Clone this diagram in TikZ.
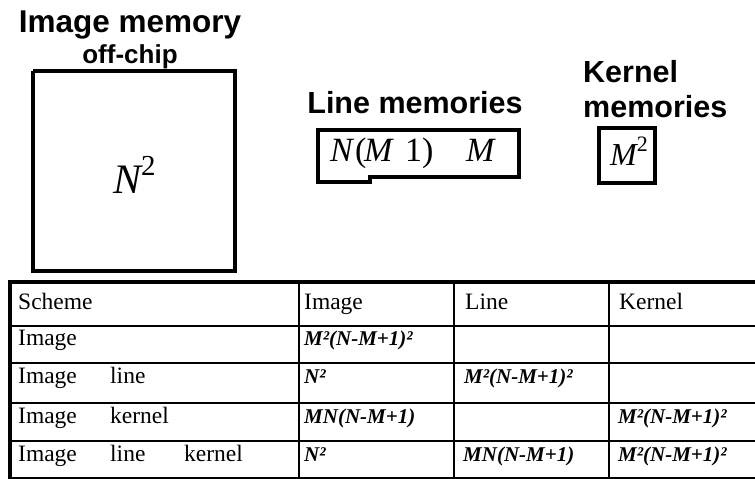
\documentclass[tikz,border=0pt]{standalone}
\usepackage{fontspec}
\setmainfont{Liberation Serif}
\setsansfont{Liberation Sans}
\newcommand{\supnum}[2]{\raisebox{#1}{\fontsize{#2}{#2}\selectfont 2}}
\begin{document}
\begin{tikzpicture}[x=1pt,y=-1pt,
  title/.style={font=\sffamily\bfseries\fontsize{30.5}{34}\selectfont, inner sep=0pt, anchor=base},
  subtitle/.style={font=\sffamily\bfseries\fontsize{26}{30}\selectfont, inner sep=0pt, anchor=base},
  membox/.style={line width=4.2pt, line join=miter},
  mathtext/.style={inner sep=0pt, anchor=base west},
  cell/.style={font=\fontsize{23.5}{27}\selectfont, inner sep=0pt, anchor=base west},
  val/.style={font=\bfseries\itshape\fontsize{21}{25}\selectfont, inner sep=0pt, anchor=base west},
  thinrule/.style={line width=1.8pt},
  thickrule/.style={line width=4pt}]
\useasboundingbox (0,0) rectangle (755,479);

% --- image memory (off-chip)
\node[title, font=\sffamily\bfseries\fontsize{31.5}{35}\selectfont] (imgmem) at (130,32) {Image memory};
\node[subtitle] (offchip) at (130,63) {off-chip};
\draw[membox] (33,71) -- (237,71);
\draw[membox] (33,71) -- (33,271) -- (235,271) -- (235,71);
\node[mathtext, font=\fontsize{42}{46}\selectfont] (nsq) at (113,193)
  {\itshape N\upshape\supnum{0.42em}{29}};

% --- line memories
\node[title] (linemem) at (415,113) {Line memories};
\draw[membox] (318,130) -- (519,130) -- (519,177) -- (370,177) -- (370,182)
  -- (318,182) -- cycle;
\begin{scope}[every node/.style={mathtext, font=\fontsize{34}{38}\selectfont}]
  \node (lmN) at (330,161) {\itshape N};
  \node (lmP) at (355,161) {(};
  \node (lmM) at (364,161) {\itshape M};
  \node (lmOne) at (405,161) {1)};
  \node (lmM2) at (466,161) {\itshape M};
\end{scope}

% --- kernel memories
\node[title, anchor=base west] (kerA) at (583,82) {Kernel};
\node[title, anchor=base west] (kerB) at (583,117) {memories};
\draw[membox] (599,128) rectangle (655,183);
\node[mathtext, font=\fontsize{32}{36}\selectfont] (msq) at (610,165)
  {\itshape M\upshape\supnum{0.42em}{22}};

% --- table frame
\draw[thickrule] (8,282) -- (755,282);
\draw[thickrule] (10,280) -- (10,479);
\foreach \yy in {326,363,403,441,478}
  \draw[thinrule] (10,\yy) -- (755,\yy);
\foreach \xx in {299,454,609}
  \draw[thinrule] (\xx,282) -- (\xx,478);

% --- header row
\node[cell] (hScheme) at (18,309) {Scheme};
\node[cell] (hImage) at (304,309) {Image};
\node[cell] (hLine) at (465,309) {Line};
\node[cell] (hKernel) at (619,309) {Kernel};

% --- row: image
\node[cell] (rAa) at (18,345) {Image};
\node[val] (rAimg) at (304,345) {M²(N-M+1)²};

% --- row: image + line
\node[cell] (rBa) at (18,383) {Image};
\node[cell] (rBb) at (110,383) {line};
\node[val] (rBimg) at (304,383) {N²};
\node[val] (rBline) at (464,383) {M²(N-M+1)²};

% --- row: image + kernel
\node[cell] (rCa) at (18,423) {Image};
\node[cell] (rCb) at (110,423) {kernel};
\node[val] (rCimg) at (304,423) {MN(N-M+1)};
\node[val] (rCker) at (618,423) {M²(N-M+1)²};

% --- row: image + line + kernel
\node[cell] (rDa) at (18,461) {Image};
\node[cell] (rDb) at (110,461) {line};
\node[cell] (rDc) at (184,461) {kernel};
\node[val] (rDimg) at (304,461) {N²};
\node[val] (rDline) at (463,461) {MN(N-M+1)};
\node[val] (rDker) at (618,461) {M²(N-M+1)²};
\end{tikzpicture}
\end{document}
